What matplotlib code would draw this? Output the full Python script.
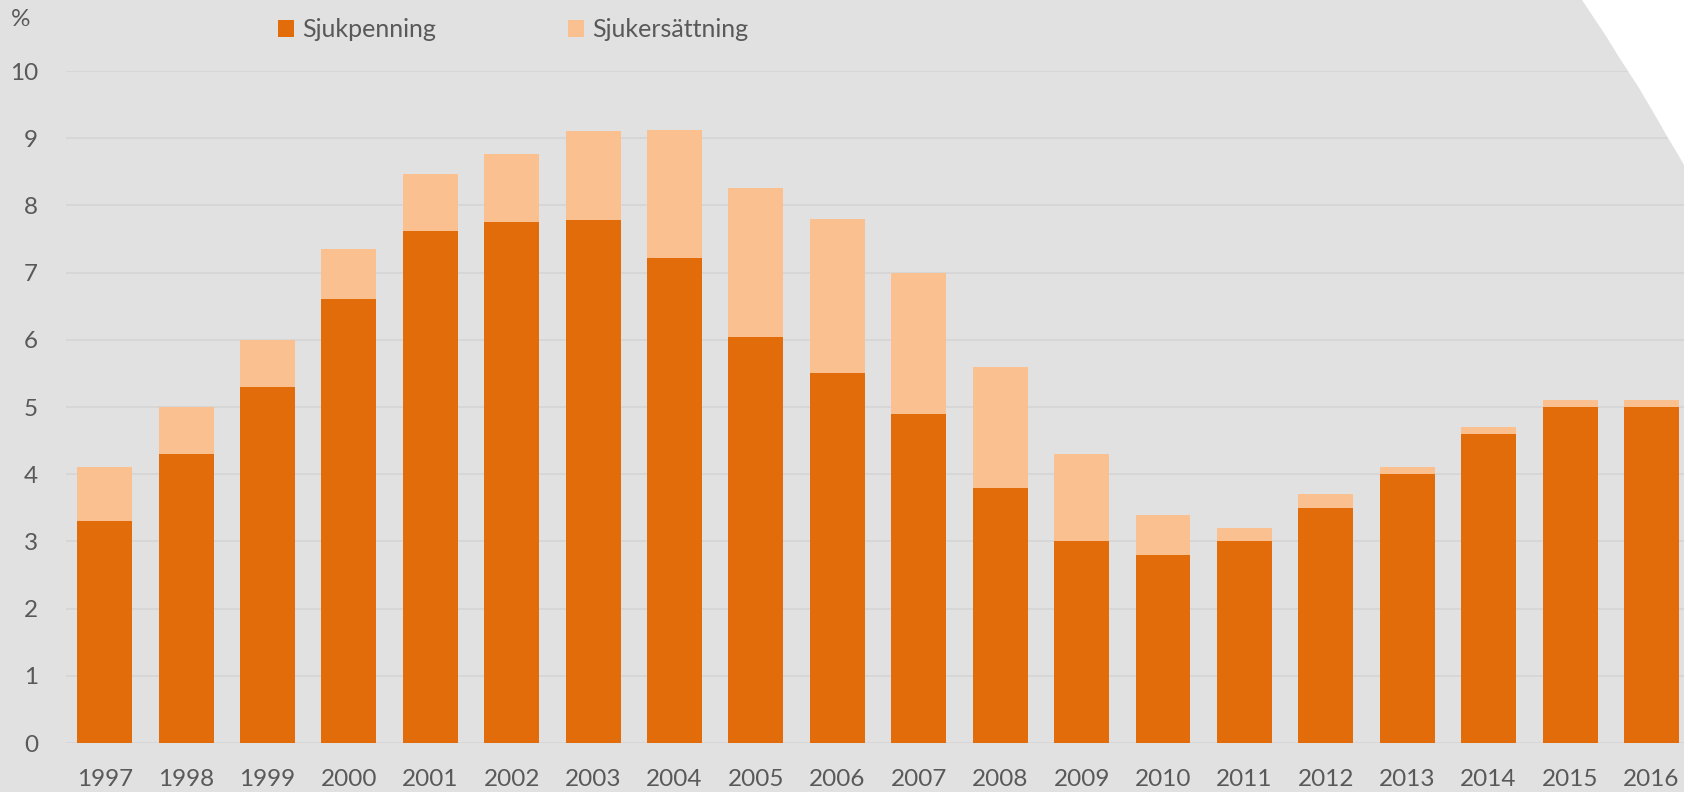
# Sjukpenning och sjukersättning 1997-2016, stacked bars

import matplotlib.pyplot as plt
from matplotlib.patches import Patch, Polygon
import numpy as np

plt.rcParams['font.family'] = ['Lato', 'DejaVu Sans']

# data
years = ['1997', '1998', '1999', '2000', '2001', '2002', '2003', '2004', '2005', '2006',
         '2007', '2008', '2009', '2010', '2011', '2012', '2013', '2014', '2015', '2016']
sjukpenning = [3.3, 4.3, 5.3, 6.6, 7.62, 7.76, 7.78, 7.22, 6.04, 5.5,
               4.9, 3.8, 3.0, 2.8, 3.0, 3.5, 4.0, 4.6, 5.0, 5.0]
totalt = [4.1, 5.0, 6.0, 7.35, 8.47, 8.77, 9.1, 9.12, 8.26, 7.8,
          7.0, 5.6, 4.3, 3.4, 3.2, 3.7, 4.1, 4.7, 5.1, 5.1]
sjukersattning = [t - s for t, s in zip(totalt, sjukpenning)]
yticks = [0, 1, 2, 3, 4, 5, 6, 7, 8, 9, 10]

dark = '#E36C0A'
light = '#FAC090'
bg = '#E1E1E1'
grid = '#D4D4D4'
txt = '#595959'

W, H = 1684, 792
fig = plt.figure(figsize=(W / 100, H / 100), dpi=100)
fig.patch.set_facecolor(bg)

# white curved corner of the slide, top right
curve_px = [(1582, 0), (1594, 18), (1606, 36), (1617, 54), (1628, 71), (1639, 88),
            (1649, 105), (1659, 122), (1668, 138), (1676, 151), (1684, 165), (1684, 0)]
fig.patches.append(Polygon([(x / W, 1 - y / H) for x, y in curve_px],
                           closed=True, transform=fig.transFigure,
                           facecolor='white', edgecolor='none', zorder=0))

ax = fig.add_axes([66 / W, 49 / H, 1 - 66 / W, (743 - 71) / H])
ax.patch.set_alpha(0)

x = np.arange(len(years))
ax.bar(x, sjukpenning, width=0.675, color=dark, zorder=3)
ax.bar(x, sjukersattning, bottom=sjukpenning, width=0.675, color=light, zorder=3)

ax.set_xlim(-0.475, 19.40)
ax.set_ylim(0, 10)
ax.set_yticks(yticks)
ax.set_xticks(x)
ax.set_xticklabels(years)
ax.yaxis.grid(True, color=grid, linewidth=1.2, zorder=0)
ax.set_axisbelow(True)
for s in ax.spines.values():
    s.set_visible(False)
ax.tick_params(axis='both', length=0, labelsize=17.5, colors=txt)
ax.tick_params(axis='y', pad=20)
ax.tick_params(axis='x', pad=19)

fig.text(21 / W, 1 - 20 / H, '%', ha='center', va='center', fontsize=17.5, color=txt)

handles = [Patch(facecolor=dark, edgecolor='none'), Patch(facecolor=light, edgecolor='none')]
fig.legend(handles, ['Sjukpenning', 'Sjukersättning'], loc='center left',
           bbox_to_anchor=(278 / W, 1 - 29.5 / H), ncol=2, frameon=False,
           fontsize=18, labelcolor=txt, borderpad=0, borderaxespad=0,
           handlelength=0.65, handleheight=0.68, handletextpad=0.3, columnspacing=5.3)

plt.savefig('out.png', dpi=100, facecolor=bg)
